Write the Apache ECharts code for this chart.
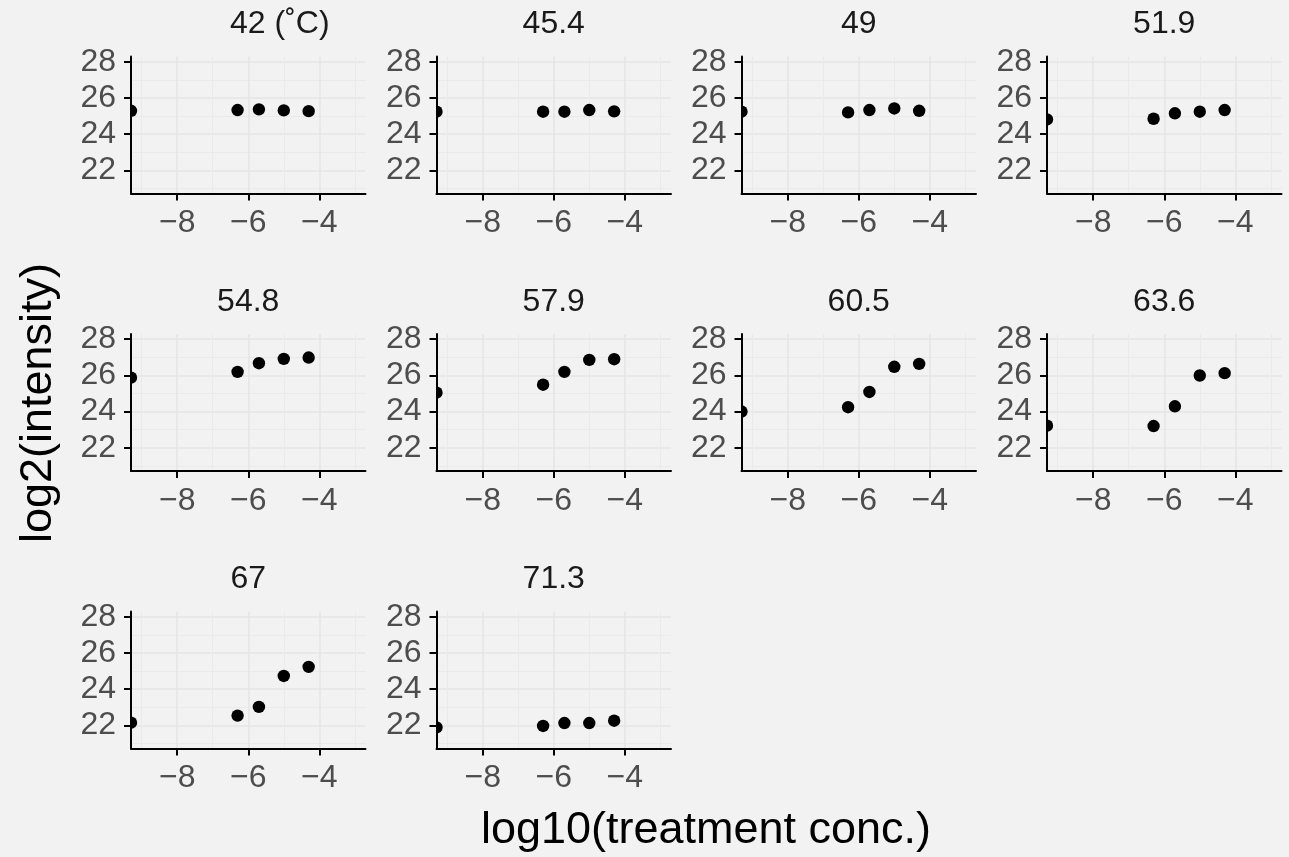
<!DOCTYPE html>
<html><head><meta charset="utf-8">
<script src="https://cdn.jsdelivr.net/npm/echarts@6/dist/echarts.min.js"></script>
<style>html,body{margin:0;padding:0;background:#f2f2f2}#c{width:1289px;height:857px}</style>
</head><body><div id="c"></div>
<script>
// ---- data ----
const panelTitles = ['42 (˚C)', '45.4', '49', '51.9', '54.8', '57.9', '60.5', '63.6', '67', '71.3'];
// first concentration is the zero dose (log10 = -Inf), drawn at the panel's left edge
const logConc = [-9.3, -6.3, -5.7, -5.0, -4.3];
const t42  = [25.29, 25.33, 25.37, 25.31, 25.27];
const t45  = [25.24, 25.24, 25.24, 25.33, 25.26];
const t49  = [25.24, 25.20, 25.33, 25.42, 25.29];
const t52  = [24.81, 24.85, 25.15, 25.24, 25.33];
const t55  = [25.87, 26.19, 26.67, 26.91, 26.98];
const t58  = [25.04, 25.48, 26.19, 26.85, 26.89];
const t60  = [24.00, 24.24, 25.08, 26.47, 26.63];
const t64  = [23.22, 23.20, 24.29, 25.99, 26.12];
const t67  = [22.15, 22.54, 23.02, 24.73, 25.23];
const t71  = [21.89, 21.97, 22.13, 22.13, 22.26];
const intensities = [t42, t45, t49, t52, t55, t58, t60, t64, t67, t71];
const xMajorTicks = [-8, -6, -4];
const xMinorTicks = [-9, -7, -5, -3];
const yMajorTicks = [22, 24, 26, 28];
const yMinorTicks = [21, 23, 25, 27];
const xRange = [-9.3, -2.7];
const yRange = [20.72, 28.28];
const xTitle = 'log10(treatment conc.)';
const yTitle = 'log2(intensity)';

// ---- layout ----
const colLeft = [131, 436.5, 741.5, 1047];
const rowTop = [56.6, 334, 611.6];
const panelW = 234.5, panelH = 137;
const FONT = '"Liberation Sans", Arial, Helvetica, sans-serif';
const tickColor = '#4d4d4d';
const majorGrid = {color: '#e5e5e5', width: 1.5};
const minorGrid = {color: '#eaeaea', width: 1};

const grids = [], xAxes = [], yAxes = [], series = [], titles = [];
panelTitles.forEach((name, i) => {
  const c = i % 4, r = Math.floor(i / 4);
  grids.push({left: colLeft[c], top: rowTop[r], width: panelW, height: panelH, containLabel: false});
  const cx = colLeft[c] + panelW / 2;
  titles.push(i === 0
    ? {text: name, left: colLeft[c] + 99, top: rowTop[r] - 48, padding: 0,
       textStyle: {fontSize: 32, fontWeight: 'normal', color: '#1a1a1a', fontFamily: FONT}}
    : {text: name, left: cx, textAlign: 'center', top: rowTop[r] - 48, padding: 0,
       textStyle: {fontSize: 32, fontWeight: 'normal', color: '#1a1a1a', fontFamily: FONT}});
  // minor grid axis (hidden)
  xAxes.push({gridIndex: i, type: 'value', min: xRange[0], max: xRange[1], position: 'top',
    axisLine: {show: false}, axisTick: {show: false, customValues: xMinorTicks},
    axisLabel: {show: false, customValues: xMinorTicks},
    splitLine: {show: true, lineStyle: minorGrid}});
  yAxes.push({gridIndex: i, type: 'value', min: yRange[0], max: yRange[1], position: 'right',
    axisLine: {show: false}, axisTick: {show: false, customValues: yMinorTicks},
    axisLabel: {show: false, customValues: yMinorTicks},
    splitLine: {show: true, lineStyle: minorGrid}});
  // visible axes
  xAxes.push({gridIndex: i, type: 'value', min: xRange[0], max: xRange[1], position: 'bottom',
    axisLine: {show: true, onZero: false, lineStyle: {color: '#000', width: 2}},
    axisTick: {show: true, length: 7, customValues: xMajorTicks, lineStyle: {color: '#000', width: 2}},
    axisLabel: {show: true, customValues: xMajorTicks, margin: 14, fontSize: 32, color: tickColor, fontFamily: FONT,
      formatter: v => String(v).replace('-', '\u2212')},
    splitLine: {show: true, lineStyle: majorGrid}});
  yAxes.push({gridIndex: i, type: 'value', min: yRange[0], max: yRange[1], position: 'left',
    axisLine: {show: true, onZero: false, lineStyle: {color: '#000', width: 2}},
    axisTick: {show: true, length: 7, customValues: yMajorTicks, lineStyle: {color: '#000', width: 2}},
    axisLabel: {show: true, customValues: yMajorTicks, margin: 15, fontSize: 32, color: tickColor, fontFamily: FONT},
    splitLine: {show: true, lineStyle: majorGrid}});
  series.push({
    type: 'custom', name: name, xAxisIndex: 2 * i + 1, yAxisIndex: 2 * i + 1, clip: true, z: 5,
    data: logConc.map((x, k) => [x, intensities[i][k]]),
    encode: {x: 0, y: 1},
    renderItem: (params, api) => {
      const p = api.coord([api.value(0), api.value(1)]);
      return {type: 'circle', shape: {cx: p[0], cy: p[1], r: 6.2}, style: {fill: '#000'}};
    }
  });
});

const chart = echarts.init(document.getElementById('c'), null, {renderer: 'canvas'});
chart.setOption({
  backgroundColor: '#f2f2f2',
  animation: false,
  textStyle: {fontFamily: FONT},
  title: titles,
  grid: grids,
  xAxis: xAxes,
  yAxis: yAxes,
  series: series,
  graphic: [
    {type: 'text', x: 706, y: 831, style: {text: xTitle, fontSize: 45, fontFamily: FONT, fill: '#000', textAlign: 'center', textVerticalAlign: 'middle'}},
    {type: 'text', x: 39, y: 403, rotation: Math.PI / 2, style: {text: yTitle, fontSize: 45, fontFamily: FONT, fill: '#000', textAlign: 'center', textVerticalAlign: 'middle'}}
  ]
});
</script></body></html>
